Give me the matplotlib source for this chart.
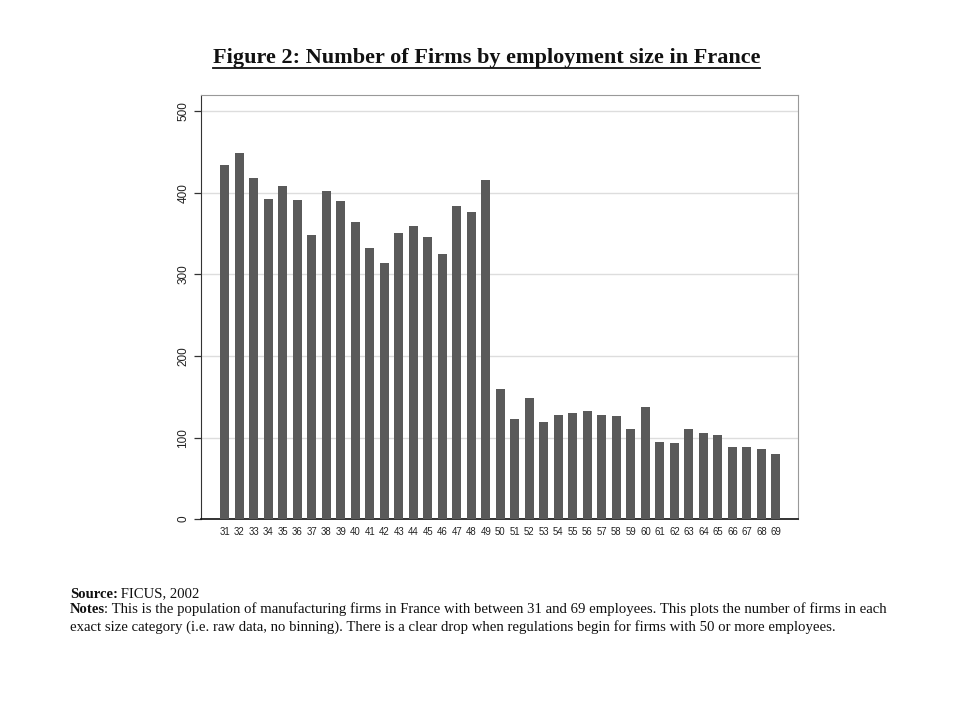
import matplotlib
matplotlib.use('Agg')
import matplotlib.pyplot as plt
from matplotlib.lines import Line2D

# employment size categories and number of firms in each
sizes = list(range(31, 70))
firms = [434, 449, 418, 393, 409, 391, 348, 402, 390, 364,
         332, 314, 351, 360, 346, 325, 384, 376, 416, 160,
         123, 149, 119, 128, 130, 133, 128, 126, 111, 137,
         94, 93, 110, 106, 103, 89, 89, 86, 80]
yticks = [0, 100, 200, 300, 400, 500]

title = 'Figure 2: Number of Firms by employment size in France'
source_label = 'Source:'
source_text = ' FICUS, 2002'
notes_label = 'Notes'
notes_line1 = (': This is the population of manufacturing firms in France with between 31 and 69 '
               'employees. This plots the number of firms in each')
notes_line2 = ('exact size category (i.e. raw data, no binning). There is a clear drop when '
               'regulations begin for firms with 50 or more employees.')

serif = 'Liberation Serif'
sans = 'Liberation Sans'

fig = plt.figure(figsize=(9.6, 7.2), dpi=100)
ax = fig.add_axes([0.209, 0.279, 0.622, 0.589])

ax.bar(sizes, firms, width=0.62, color='#5a5a5a', zorder=3)
ax.set_xlim(29.35, 70.5)
ax.set_ylim(0, 520)
ax.set_yticks(yticks)
ax.set_yticklabels([str(t) for t in yticks], rotation=90, va='center',
                   fontsize=8.5, family=sans, color='#222222')
ax.set_xticks(sizes)
ax.set_xticklabels([str(s) for s in sizes], fontsize=6.9, family=sans, color='#222222')
ax.tick_params(axis='x', length=0, pad=6)
ax.tick_params(axis='y', length=5, width=0.9, pad=3, color='#333333')
ax.grid(axis='y', color='#dddddd', linewidth=1.0, zorder=0)

ax.spines['left'].set_color('#333333')
ax.spines['bottom'].set_color('#111111')
ax.spines['bottom'].set_linewidth(1.2)
ax.spines['top'].set_color('#999999')
ax.spines['right'].set_color('#999999')

# underlined bold title
t = fig.text(0.507, 0.912, title, ha='center', va='baseline', fontsize=16,
             fontweight='bold', family=serif, color='#111111')
fig.canvas.draw()
renderer = fig.canvas.get_renderer()
bb = t.get_window_extent(renderer).transformed(fig.transFigure.inverted())
fig.add_artist(Line2D([bb.x0, bb.x1], [0.905, 0.905], color='#111111', linewidth=1.3))

# source and notes
def label_pair(x, y, bold, rest):
    b = fig.text(x, y, bold, fontsize=10.6, fontweight='bold', family=serif,
                 va='baseline', color='#111111')
    fig.canvas.draw()
    e = b.get_window_extent(fig.canvas.get_renderer()).transformed(fig.transFigure.inverted())
    fig.text(e.x1 - 0.001, y, rest, fontsize=10.6, family=serif, va='baseline', color='#111111')

label_pair(0.073, 0.170, source_label, source_text)
label_pair(0.073, 0.148, notes_label, notes_line1)
fig.text(0.073, 0.124, notes_line2, fontsize=10.6, family=serif, va='baseline', color='#111111')

fig.savefig('out.png', dpi=100, facecolor='white')
